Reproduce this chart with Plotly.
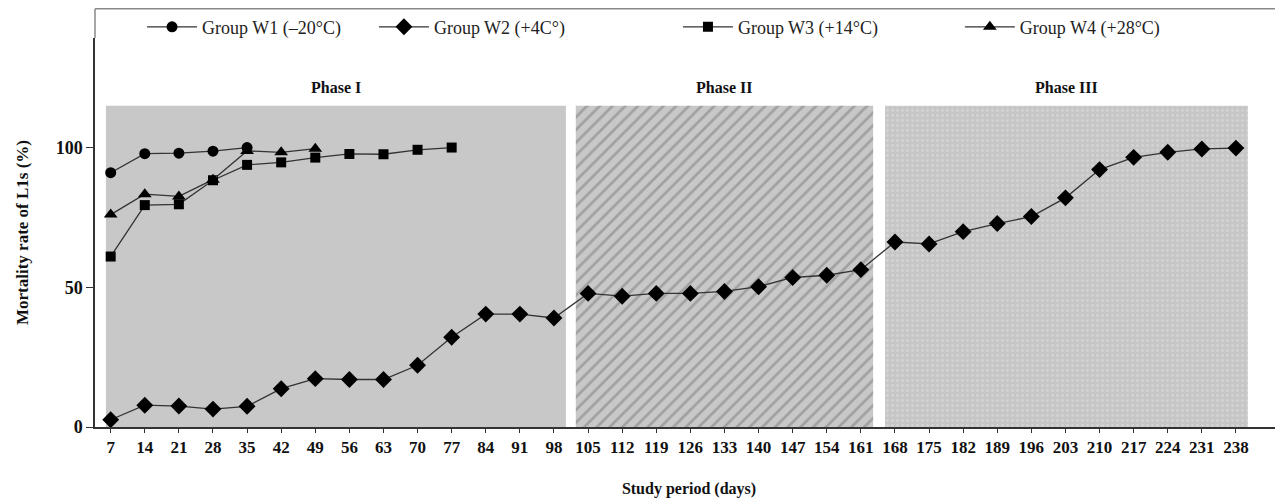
import plotly.graph_objects as go

days = [7, 14, 21, 28, 35, 42, 49, 56, 63, 70, 77, 84, 91, 98, 105, 112, 119, 126, 133,
        140, 147, 154, 161, 168, 175, 182, 189, 196, 203, 210, 217, 224, 231, 238]
labels = [str(d) for d in days]

w1_days = [7, 14, 21, 28, 35]
w1_vals = [91, 97.8, 98, 98.7, 100]

w2_days = days
w2_vals = [2.6, 7.8, 7.5, 6.4, 7.4, 13.7, 17.3, 17.0, 17.0, 22.1, 32.1, 40.4, 40.4, 39.0,
           47.8, 46.8, 47.8, 47.8, 48.5, 50.2, 53.5, 54.3, 56.3, 66.2, 65.5, 69.9, 72.8,
           75.3, 82.0, 92.1, 96.5, 98.3, 99.5, 99.8]

w3_days = [7, 14, 21, 28, 35, 42, 49, 56, 63, 70, 77]
w3_vals = [61, 79.4, 79.7, 88.3, 93.8, 94.7, 96.4, 97.7, 97.6, 99.2, 100]

w4_days = [7, 14, 21, 28, 35, 42, 49]
w4_vals = [76, 83.3, 82.5, 88.5, 98.8, 98.3, 99.6]

series_names = ["Group W1 (\u201320\u00b0C)", "Group W2 (+4C\u00b0)",
                "Group W3 (+14\u00b0C)", "Group W4 (+28\u00b0C)"]

phase_names = ["Phase I", "Phase II", "Phase III"]
phase_start = [-0.14, 13.64, 22.71]
phase_end = [13.35, 22.36, 33.35]
phase_top = 115

FONT = "Liberation Serif, Times New Roman, serif"
XR = [-0.46, 34.38]

# day -> position on the evenly spaced (ordinal) study-period axis
pos = {d: i for i, d in enumerate(days)}

fig = go.Figure()

patterns = [
    dict(shape="", bgcolor="#c8c8c8"),
    dict(shape="/", fgcolor="#787878", bgcolor="#c8c8c8", size=9, solidity=0.3),
    dict(shape=".", fgcolor="#e2e2e2", bgcolor="#c6c6c6", size=5, solidity=0.25),
]
for s, e, p in zip(phase_start, phase_end, patterns):
    fig.add_trace(go.Bar(
        x=[(s + e) / 2], y=[phase_top], width=[e - s], base=0,
        marker=dict(color="#c8c8c8", line=dict(width=0), pattern=p),
        showlegend=False, hoverinfo="skip",
    ))

line_style = dict(color="#333333", width=1.3)
specs = [
    (w1_days, w1_vals, "circle", 11, "legend"),
    (w2_days, w2_vals, "diamond", 13, "legend2"),
    (w3_days, w3_vals, "square", 10, "legend3"),
    (w4_days, w4_vals, "triangle-up", 12, "legend4"),
]
for (dx, dy, sym, sz, lg), name in zip(specs, series_names):
    fig.add_trace(go.Scatter(
        x=[pos[d] for d in dx], y=dy, mode="lines+markers", name=name,
        line=line_style, marker=dict(symbol=sym, size=sz, color="black"),
        legend=lg,
    ))

for s, e, n in zip(phase_start, phase_end, phase_names):
    fig.add_annotation(x=(s + e) / 2, y=121.6, text=n, showarrow=False,
                       font=dict(family=FONT, size=16, color="#111", weight="bold"))

leg_common = dict(orientation="h", yanchor="middle", xanchor="left",
                  font=dict(family=FONT, size=18, color="#222"),
                  bgcolor="rgba(0,0,0,0)", itemwidth=50)
leg_x = [0.0396, 0.2348, 0.4907, 0.728]
fig.update_layout(
    legend=dict(x=leg_x[0], y=1.028, **leg_common),
    legend2=dict(x=leg_x[1], y=1.028, **leg_common),
    legend3=dict(x=leg_x[2], y=1.028, **leg_common),
    legend4=dict(x=leg_x[3], y=1.028, **leg_common),
)

fig.update_layout(
    width=1275, height=490,
    margin=dict(l=87, r=0, t=30, b=71),
    paper_bgcolor="white", plot_bgcolor="white",
    barmode="overlay",
    xaxis=dict(range=XR, tickmode="array", tickvals=list(range(len(days))),
               ticktext=labels, automargin=False,
               showgrid=False, zeroline=False, showline=True, linecolor="#333",
               linewidth=1.5, ticks="outside", ticklen=4, tickcolor="#333",
               tickfont=dict(family=FONT, size=17, color="#111", weight="bold"),
               title=dict(text="Study period (days)", standoff=27,
                          font=dict(family=FONT, size=16, color="#111", weight="bold"))),
    yaxis=dict(range=[0, 139.2], tickvals=[0, 50, 100], showgrid=False,
               automargin=False,
               zeroline=False, showline=True, linecolor="#333", linewidth=1.5,
               ticks="outside", ticklen=7, tickcolor="#333",
               tickfont=dict(family=FONT, size=18, color="#111", weight="bold"),
               title=dict(text="Mortality rate of L1s (%)", standoff=23,
                          font=dict(family=FONT, size=17, color="#111", weight="bold"))),
)

fig.add_shape(type="line", xref="paper", yref="paper", x0=0, x1=1,
              y0=1.075, y1=1.075, line=dict(color="#888", width=1.5))
fig.add_shape(type="line", xref="paper", yref="paper", x0=0, x1=0,
              y0=1.0, y1=1.075, line=dict(color="#888", width=1.5))

fig.write_html("out.html")
